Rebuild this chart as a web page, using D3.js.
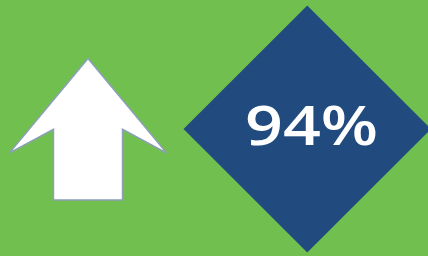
<!DOCTYPE html>
<html>
<head>
<meta charset="utf-8">
<script src="https://cdn.jsdelivr.net/npm/d3@7"></script>
<style>
  html, body { margin: 0; padding: 0; background: #71c04f; }
  svg { display: block; }
</style>
</head>
<body>
<div class="chart"></div>
<script>
const width = 428;
const height = 256;

// data
const metricValues = [94];
const metricLabels = ['94%'];
const trendDirections = ['up'];

const colorBg = '#71c04f';
const colorDiamond = '#214a7e';
const colorArrow = '#ffffff';
const colorArrowEdge = '#8c9fb9';

let svg = d3.select('.chart').append('svg')
    .attr('width', width)
    .attr('height', height);

svg.append('rect')
    .attr('width', width)
    .attr('height', height)
    .attr('fill', colorBg);

// arrow drawn in a unit box, mapped by scales
let ax = d3.scaleLinear().domain([0, 1]).range([9.5, 166.5]);
let ay = d3.scaleLinear().domain([0, 1]).range([58.5, 200]);

let arrowShape = [
    [0.5, 0], [1, 0.667], [0.72, 0.50], [0.72, 1],
    [0.28, 1], [0.28, 0.50], [0, 0.667]
];

svg.selectAll('.trend-arrow')
    .data(trendDirections)
    .enter()
    .append('path')
    .attr('class', 'trend-arrow')
    .attr('d', (dir) => {
        let pts = arrowShape.map((p) => [ax(p[0]), ay(dir === 'up' ? p[1] : 1 - p[1])]);
        return d3.line()(pts) + 'Z';
    })
    .attr('fill', colorArrow)
    .attr('stroke', colorArrowEdge)
    .attr('stroke-width', 1.5)
    .attr('stroke-linejoin', 'miter');

// diamond badge
let dx = d3.scaleLinear().domain([-1, 1]).range([183.5, 431]);
let dy = d3.scaleLinear().domain([-1, 1]).range([5.5, 252.5]);

let badge = svg.selectAll('.badge')
    .data(metricValues)
    .enter()
    .append('g')
    .attr('class', 'badge');

badge.append('path')
    .attr('d', d3.line()([[dx(0), dy(-1)], [dx(1), dy(0)], [dx(0), dy(1)], [dx(-1), dy(0)]]) + 'Z')
    .attr('fill', colorDiamond);

badge.append('text')
    .attr('x', 245)
    .attr('y', 145)
    .attr('textLength', 133)
    .attr('lengthAdjust', 'spacingAndGlyphs')
    .attr('font-family', 'Open Sans, sans-serif')
    .attr('font-size', 55)
    .attr('font-weight', 600)
    .attr('fill', '#ffffff')
    .text((d, i) => metricLabels[i]);
</script>
</body>
</html>
